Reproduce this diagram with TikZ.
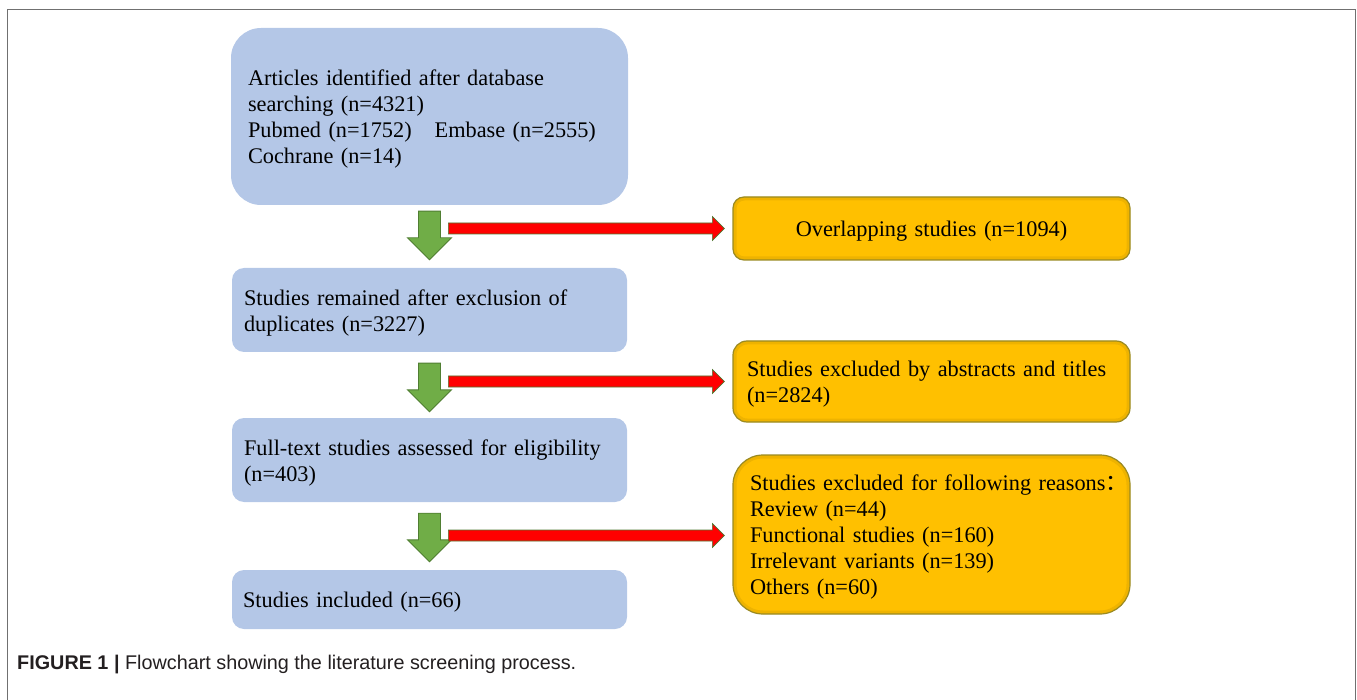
\documentclass[tikz,border=0pt]{standalone}
\usepackage{fontspec}
\setmainfont{Liberation Serif}
\setsansfont{Liberation Sans}
\newfontfamily\cjk{Noto Sans CJK SC}
\usepackage{tikz}
\usetikzlibrary{calc}
\definecolor{boxblue}{HTML}{B4C7E7}
\definecolor{gold}{HTML}{FFC000}
\definecolor{goldline}{HTML}{9A8A22}
\definecolor{arrgreen}{HTML}{70AD47}
\definecolor{arrgreenline}{HTML}{507E32}
\definecolor{arrred}{HTML}{FF0000}
\definecolor{framegray}{HTML}{707070}
\definecolor{captext}{HTML}{231F20}
\newcommand\boxfont{\fontsize{22.3}{26}\selectfont\hyphenpenalty=10000\exhyphenpenalty=10000}
\tikzset{
  bluebox/.style={fill=boxblue, draw=none, rounded corners=12pt, inner ysep=0pt, align=left, font=\boxfont,
    execute at begin node={\rule{0pt}{21.5pt}}},
  goldbox/.style={fill=gold, draw=goldline, line width=1.2pt, rounded corners=#1, inner ysep=0pt, align=left, font=\boxfont,
    execute at begin node={\rule{0pt}{21.5pt}},
    path picture={\draw[draw=gold!78!black, line width=7pt, opacity=0.3, rounded corners=#1]
      (path picture bounding box.south west) rectangle (path picture bounding box.north east);}},
  goldbox/.default=11pt,
  downarr/.style={fill=arrgreen, draw=arrgreenline, line width=0.9pt, line join=miter},
  sidearr/.style={fill=arrred, draw=arrgreen!70!black, line width=0.6pt, line join=miter},
  frame/.style={draw=framegray, line width=1.5pt},
  caption/.style={text=captext, font=\sffamily\fontsize{19.8}{22}\selectfont, inner sep=0pt},
}
% block arrows between named points
\newcommand\greenarrow[2]{%
  \draw[downarr] ($(#1)+(-11,0)$) -- ($(#2)+(-11,-22)$) -- ($(#2)+(-22,-22)$) -- (#2)
    -- ($(#2)+(22,-22)$) -- ($(#2)+(11,-22)$) -- ($(#1)+(11,0)$) -- cycle;}
\newcommand\redarrow[2]{%
  \draw[sidearr] ($(#1)+(0,-5.5)$) -- ($(#2)+(-12,-5.5)$) -- ($(#2)+(-12,-12)$) -- (#2)
    -- ($(#2)+(-12,12)$) -- ($(#2)+(-12,5.5)$) -- ($(#1)+(0,5.5)$) -- cycle;}

\begin{document}
\begin{tikzpicture}[x=1pt, y=-1pt]
  \useasboundingbox (0,0) rectangle (1357,700);
  \draw[frame] (7.5,700) -- (7.5,9.5) -- (1355.5,9.5) -- (1355.5,700);

  % left column
  \node[bluebox, rounded corners=30pt, inner xsep=17pt, text width=363pt, minimum height=177pt] (b1) at (429.5,116.5)
    {Articles identified after database\\searching (n=4321)\\Pubmed (n=1752)\hspace{23pt}Embase (n=2555)\\Cochrane (n=14)};
  \node[bluebox, inner xsep=12pt, text width=371pt, minimum height=84pt] (b2) at (429.5,310)
    {Studies remained after exclusion of\\duplicates (n=3227)};
  \node[bluebox, inner xsep=12pt, text width=371pt, minimum height=84pt] (b3) at (429.5,460)
    {Full-text studies assessed for eligibility\\(n=403)};
  \node[bluebox, inner xsep=11pt, text width=373pt, minimum height=59pt] (b4) at (429.5,599.5)
    {Studies included (n=66)};

  % right column
  \node[goldbox, align=center, inner xsep=10pt, text width=377pt, minimum height=63pt] (o1) at (931.5,228.5)
    {Overlapping studies (n=1094)};
  \node[goldbox=14pt, inner xsep=14pt, text width=369pt, minimum height=81pt] (o2) at (931.5,381.5)
    {Studies excluded by abstracts and titles\\(n=2824)};
  \node[goldbox=30pt, inner xsep=17pt, text width=363pt, minimum height=159pt] (o3) at (931.5,534.5)
    {\mbox{Studies excluded for following reasons{\cjk ：}}\\Review (n=44)\\Functional studies (n=160)\\Irrelevant variants (n=139)\\Others (n=60)};

  \coordinate (g1t) at ($(b1.south)+(0,6)$);  \coordinate (g1e) at ($(b2.north)+(0,-8)$);
  \coordinate (g2t) at ($(b2.south)+(0,11)$); \coordinate (g2e) at ($(b3.north)+(0,-6)$);
  \coordinate (g3t) at ($(b3.south)+(0,11)$); \coordinate (g3e) at ($(b4.north)+(0,-8)$);
  \coordinate (r1e) at ($(o1.west)+(-8,0)$);  \coordinate (r1s) at ($(r1e)+(-276,0)$);
  \coordinate (r2e) at ($(o2.west)+(-8,0)$);  \coordinate (r2s) at ($(r2e)+(-276,0)$);
  \coordinate (r3e) at ($(o3.west)+(-8,1)$);  \coordinate (r3s) at ($(r3e)+(-276,0)$);

  \greenarrow{g1t}{g1e} \redarrow{r1s}{r1e}
  \greenarrow{g2t}{g2e} \redarrow{r2s}{r2e}
  \greenarrow{g3t}{g3e} \redarrow{r3s}{r3e}

  \node[caption, anchor=base west] (cap) at (17,669)
    {\textbf{FIGURE 1 |} Flowchart showing the literature screening process.};
\end{tikzpicture}
\end{document}
